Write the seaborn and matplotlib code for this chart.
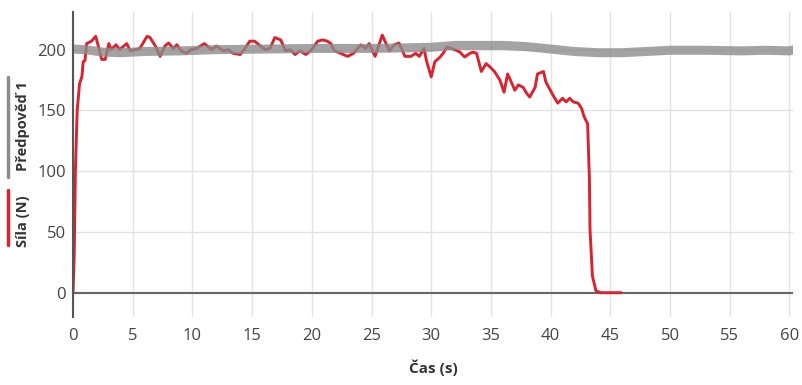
import seaborn as sns  # plotting
import matplotlib.pyplot as plt
import pandas as pd
from matplotlib.lines import Line2D

sila_t = [0, 0.1, 0.2, 0.35, 0.55, 0.75, 0.85, 1.0, 1.14, 1.55, 1.9, 2.2, 2.4, 2.7, 3.0, 3.2, 3.6, 3.9,
          4.5, 4.8, 5.2, 5.6, 6.2, 6.45, 6.9, 7.3, 7.7, 8.0, 8.4, 8.7, 9.1, 9.5, 9.9, 10.35, 11.0, 11.6,
          12.0, 12.6, 13.0, 13.4, 14.0, 14.4, 14.8, 15.2, 15.7, 16.1, 16.5, 16.9, 17.4, 17.8, 18.2, 18.6,
          19.0, 19.5, 19.9, 20.5, 20.9, 21.3, 21.6, 21.9, 22.4, 23.0, 23.5, 24.1, 24.5, 24.8, 25.3, 25.9,
          26.2, 26.5, 26.9, 27.3, 27.8, 28.3, 28.7, 29.0, 29.4, 29.6, 30.0, 30.3, 30.75, 31.0, 31.3, 31.7,
          32.1, 32.4, 32.8, 33.25, 33.5, 33.8, 34.2, 34.6, 34.9, 35.3, 35.75, 36.1, 36.4, 36.7, 37.0, 37.3,
          37.7, 38.0, 38.25, 38.7, 38.9, 39.4, 39.6, 39.9, 40.2, 40.6, 41.0, 41.3, 41.6, 41.9, 42.3, 42.6,
          42.8, 43.1, 43.25, 43.3, 43.5, 43.8, 44.2, 45.9]
sila_f = [0, 30, 100, 150, 172, 178, 190, 191, 205, 207, 211, 200, 192, 192, 205, 200, 204, 200,
          205, 199, 200, 201, 211, 210, 203, 194.5, 203, 205.5, 201, 204, 198.6, 197, 200, 201, 205, 200,
          203, 199, 200, 197, 196, 201, 207, 207, 203, 200, 201, 210, 208, 199, 200, 196,
          199, 196, 199, 207, 208, 207, 205, 199, 197, 194.5, 197, 204, 201, 205, 194.5, 212,
          205.5, 199, 204, 205.5, 194.5, 194.5, 197, 194.5, 201, 191, 177.6, 190, 194, 197, 202, 201,
          199.5, 198, 194, 197, 198, 197, 182, 188.5, 186, 182, 175, 165, 180, 173.5, 166.6, 171,
          169, 164, 161, 169, 180, 182, 173.5, 168, 162.6, 156, 160, 157, 160, 157, 156, 151.6,
          145, 139, 93, 52, 13.7, 1.4, 0, 0]

# prediction (Předpověď 1)
pred_t = [0, 1, 2.5, 4, 6, 9, 12, 16, 20, 25, 28, 30, 32, 36, 38, 40, 42, 44, 46, 48, 50, 53, 56, 58, 60, 60.4]
pred_f = [200.5, 200, 198, 197.5, 198.5, 199, 200, 200.5, 201, 201, 201.5, 202, 203.5, 203.5, 202.5, 200.5,
          198.5, 197.5, 197.5, 198.5, 199.5, 199.5, 199, 199.5, 199, 200]

x_ticks = [0, 5, 10, 15, 20, 25, 30, 35, 40, 45, 50, 55, 60]
y_ticks = [0, 50, 100, 150, 200]

red = "#d9232f"
grey = "#8c8c8c"

sila = pd.DataFrame({"t": sila_t, "f": sila_f})
pred = pd.DataFrame({"t": pred_t, "f": pred_f})

sns.set_theme(style="whitegrid")
plt.rcParams['font.family'] = ['Open Sans', 'DejaVu Sans']

fig = plt.figure(figsize=(8.03, 3.85), dpi=100)
ax = fig.add_axes([73 / 803, 1 - 317 / 385, 720 / 803, 305 / 385])

sns.lineplot(data=sila, x="t", y="f", ax=ax, color=red, linewidth=2.1, estimator=None, sort=False)
sns.lineplot(data=pred, x="t", y="f", ax=ax, color=grey, linewidth=6.5, alpha=0.8,
             estimator=None, sort=False, solid_capstyle="round")

ax.axhline(0, color="#666666", linewidth=1.5, zorder=1)
ax.set_xlim(0, 60.3)
ax.set_ylim(-20, 231)
ax.set_xticks(x_ticks)
ax.set_yticks(y_ticks)
ax.grid(True, color="#e3e3e3", linewidth=1)
ax.tick_params(axis="both", length=0, labelsize=12, labelcolor="#444444")
ax.tick_params(axis="x", pad=8)
ax.tick_params(axis="y", pad=5)
for s in ["top", "right", "bottom"]:
    ax.spines[s].set_visible(False)
ax.spines["left"].set_color("#555555")
ax.spines["left"].set_linewidth(1.5)
ax.set_ylabel("")
ax.set_xlabel("Čas (s)", fontsize=11, fontweight="bold", color="#333333", labelpad=11)

# legend-like y label with coloured bars
fig.text(23 / 803, 1 - 126.5 / 385, "Předpověď 1", rotation=90, ha="center", va="center",
         fontsize=10.5, fontweight="bold", color="#333333")
fig.text(23 / 803, 1 - 221.5 / 385, "Síla (N)", rotation=90, ha="center", va="center",
         fontsize=10.5, fontweight="bold", color="#333333")
fig.add_artist(Line2D([8 / 803, 8 / 803], [1 - 77 / 385, 1 - 177 / 385], transform=fig.transFigure,
                      color=grey, linewidth=2.5))
fig.add_artist(Line2D([8 / 803, 8 / 803], [1 - 190 / 385, 1 - 245 / 385], transform=fig.transFigure,
                      color=red, linewidth=2.5))

plt.savefig("out.png", dpi=100)
